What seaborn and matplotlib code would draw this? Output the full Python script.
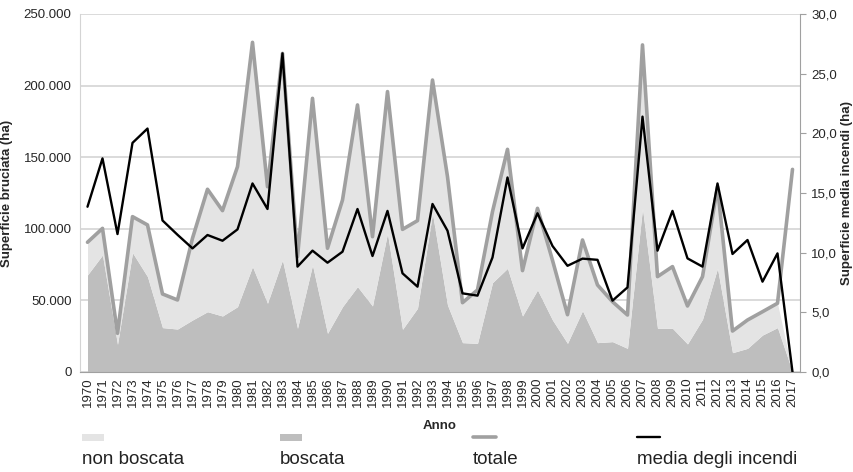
import numpy as np
import seaborn as sns
import matplotlib.pyplot as plt
from matplotlib.ticker import FuncFormatter, MultipleLocator
from matplotlib.patches import Rectangle
from matplotlib.lines import Line2D

anni = list(range(1970, 2018))

# superficie bruciata (ha)
boscata = [67800, 81700, 19300, 83300, 66600, 31000, 30000, 36300, 42100, 39100,
           45600, 73600, 48000, 78200, 30500, 74700, 27000, 45600, 59600, 46100,
           96800, 29800, 44500, 110800, 46800, 20500, 20000, 62400, 72400, 39100,
           57300, 36300, 20000, 42800, 20500, 21200, 16500, 114300, 30500, 30500,
           19600, 36800, 72400, 13500, 16500, 25800, 31000, 0]
non_boscata = [22800, 18600, 7700, 25200, 36100, 23500, 20300, 57100, 85500, 73600,
               97800, 156600, 81400, 144300, 50000, 116400, 59400, 74500, 126900, 48400,
               99000, 69800, 61200, 93100, 89600, 27900, 37300, 49600, 83100, 31700,
               57000, 41700, 20000, 49400, 40300, 27900, 23300, 114100, 36100, 43100,
               26500, 29800, 57000, 15100, 19800, 16300, 17000, 0]
totale = [90600, 100300, 27000, 108500, 102700, 54500, 50300, 93400, 127600, 112700,
          143400, 230200, 129400, 222500, 80500, 191100, 86400, 120100, 186500, 94500,
          195800, 99600, 105700, 203900, 136400, 48400, 57300, 112000, 155500, 70800,
          114300, 78000, 40000, 92200, 60800, 49100, 39800, 228400, 66600, 73600,
          46100, 66600, 129400, 28600, 36300, 42100, 48000, 141500]
# superficie media degli incendi (ha)
media = [13.85, 17.9, 11.56, 19.2, 20.4, 12.7, 11.5, 10.36, 11.48, 11.0,
         11.95, 15.8, 13.66, 26.7, 8.83, 10.17, 9.16, 10.08, 13.66, 9.72,
         13.5, 8.27, 7.15, 14.08, 11.84, 6.59, 6.4, 9.6, 16.3, 10.36,
         13.3, 10.56, 8.9, 9.5, 9.4, 5.98, 7.09, 21.4, 10.17, 13.5,
         9.52, 8.83, 15.8, 9.89, 11.06, 7.57, 9.94, 0.0]

sns.set_style("white")
plt.rcParams["font.family"] = ["Liberation Sans", "DejaVu Sans"]

c_light = "#e4e4e4"
c_dark = "#bebebe"
c_tot = "#a0a0a0"

fig = plt.figure(figsize=(8.54, 4.72), dpi=100)
ax = fig.add_axes([80 / 854, 100 / 472, 720 / 854, 358 / 472])

ax.stackplot(anni, boscata, non_boscata, colors=[c_dark, c_light], linewidth=0, zorder=2)
sns.lineplot(x=anni, y=totale, ax=ax, color=c_tot, linewidth=2.6, zorder=3)

ax.set_xlim(1969.5, 2017.5)
ax.set_ylim(0, 250000)
ax.yaxis.set_major_locator(MultipleLocator(50000))
ax.yaxis.set_major_formatter(FuncFormatter(lambda v, p: f"{int(v):,}".replace(",", ".")))
ax.grid(axis="y", color="#d4d4d4", linewidth=1.2, zorder=0)
ax.set_axisbelow(True)

ax.set_xticks(anni)
ax.set_xticklabels([str(a) for a in anni], rotation=90, fontsize=9.5)
ax.set_xticks(np.arange(1969.5, 2018, 1), minor=True)
ax.tick_params(axis="x", which="major", length=0, pad=4)
ax.tick_params(axis="x", which="minor", length=4, color="#a0a0a0", width=1)
ax.tick_params(axis="y", labelsize=9.5, length=0, pad=6)

for s in ["top", "right"]:
    ax.spines[s].set_visible(False)
ax.spines["left"].set_color("#d4d4d4")
ax.spines["bottom"].set_color("#a0a0a0")

ax.set_xlabel("Anno", fontsize=9.5, fontweight="bold", labelpad=9)
ax.set_ylabel("Superficie bruciata (ha)", fontsize=9.5, fontweight="bold", labelpad=8)

ax2 = ax.twinx()
sns.lineplot(x=anni, y=media, ax=ax2, color="black", linewidth=1.7, zorder=4)
ax2.set_ylim(0, 30)
ax2.yaxis.set_major_locator(MultipleLocator(5))
ax2.yaxis.set_major_formatter(FuncFormatter(lambda v, p: f"{v:.1f}".replace(".", ",")))
ax2.tick_params(axis="y", labelsize=9.5, length=4, color="#a0a0a0", pad=4)
for s in ["top", "left", "bottom"]:
    ax2.spines[s].set_visible(False)
ax2.spines["right"].set_color("#a0a0a0")
ax2.set_ylabel("Superficie media incendi (ha)", fontsize=9.5, fontweight="bold", labelpad=3)
ax2.grid(False)

# legenda in stile Excel: simbolo sopra, testo sotto
voci = [("non boscata", "patch", c_light, 82),
        ("boscata", "patch", c_dark, 280),
        ("totale", "line", c_tot, 473),
        ("media degli incendi", "line", "black", 637)]
for testo, tipo, col, px in voci:
    x0 = px / 854
    if tipo == "patch":
        fig.add_artist(Rectangle((x0, 1 - 441 / 472), 22 / 854, 7 / 472,
                                 transform=fig.transFigure, color=col, linewidth=0))
    else:
        fig.add_artist(Line2D([x0, x0 + 23 / 854], [1 - 437 / 472] * 2,
                              transform=fig.transFigure, color=col,
                              linewidth=2.6 if col == c_tot else 1.7))
    fig.text(x0, 1 - 460 / 472, testo, fontsize=13.5, va="center", ha="left", color="#222222")

fig.savefig("out.png", dpi=100)
